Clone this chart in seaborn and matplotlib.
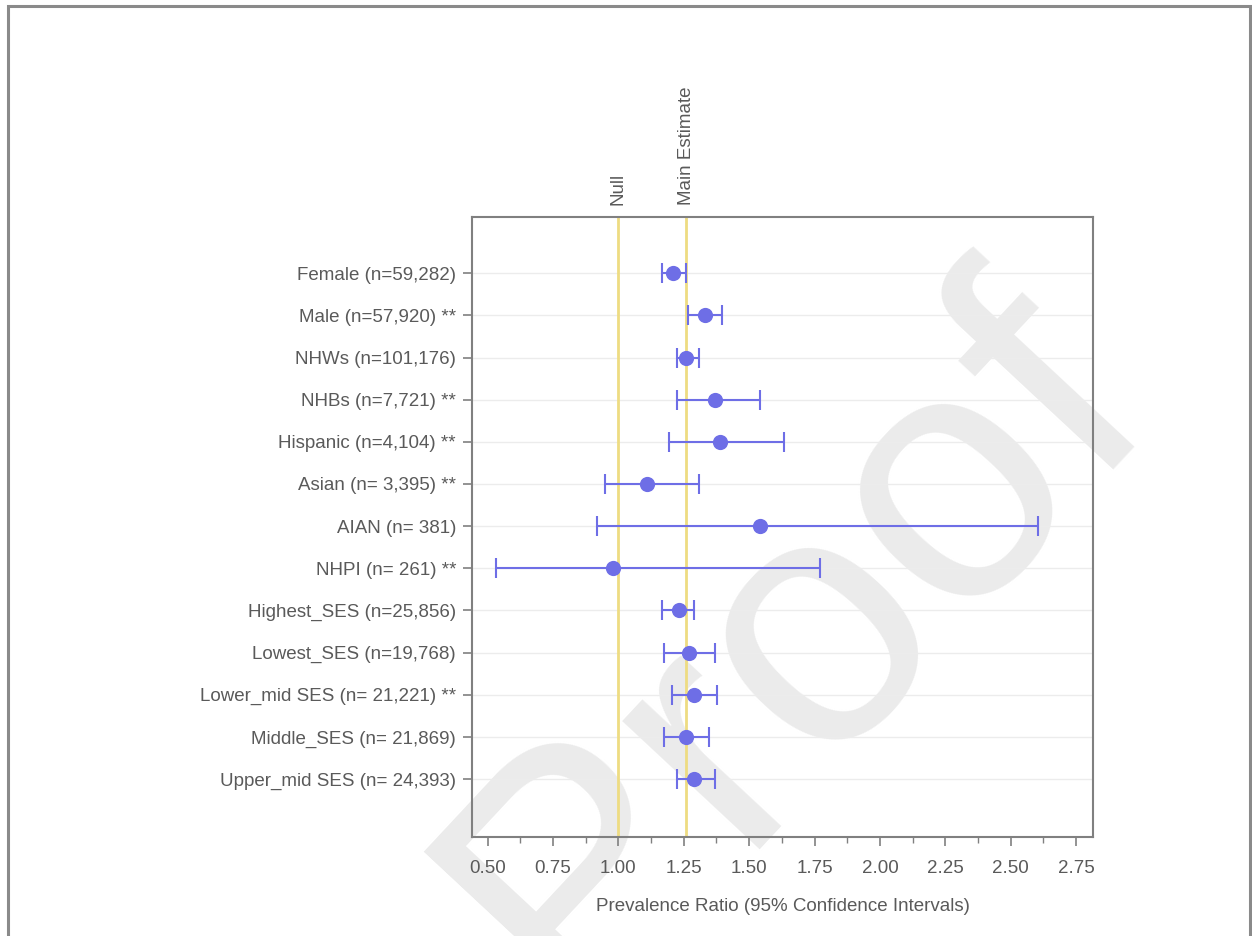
import matplotlib
matplotlib.use("Agg")
import matplotlib.pyplot as plt
import matplotlib.transforms as mtransforms
from matplotlib.patches import Rectangle
from matplotlib.ticker import MultipleLocator
import seaborn as sns
import numpy as np
import pandas as pd

# Subgroup labels, top to bottom
groups = [
    "Female (n=59,282)",
    "Male (n=57,920) **",
    "NHWs (n=101,176)",
    "NHBs (n=7,721) **",
    "Hispanic (n=4,104) **",
    "Asian (n= 3,395) **",
    "AIAN (n= 381)",
    "NHPI (n= 261) **",
    "Highest_SES (n=25,856)",
    "Lowest_SES (n=19,768)",
    "Lower_mid SES (n= 21,221) **",
    "Middle_SES (n= 21,869)",
    "Upper_mid SES (n= 24,393)",
]
# Prevalence ratio and 95% CI
pr = [1.21, 1.33, 1.26, 1.37, 1.39, 1.11, 1.54, 0.98, 1.23, 1.27, 1.29, 1.26, 1.29]
ci_low = [1.165, 1.267, 1.225, 1.225, 1.195, 0.950, 0.919, 0.533, 1.165, 1.173, 1.205, 1.173, 1.225]
ci_high = [1.258, 1.397, 1.309, 1.542, 1.633, 1.307, 2.605, 1.770, 1.288, 1.369, 1.377, 1.347, 1.369]

null_value = 1.0
main_estimate = 1.26
x_ticks = [0.50, 0.75, 1.00, 1.25, 1.50, 1.75, 2.00, 2.25, 2.50, 2.75]

df = pd.DataFrame({"group": groups, "pr": pr, "lo": ci_low, "hi": ci_high})

sns.set_theme(style="white")
plt.rcParams["font.family"] = ["Liberation Sans", "DejaVu Sans"]

text_col = "#5a5a5a"
mark_col = "#6e6ee6"
ref_col = "#eedc82"

fig = plt.figure(figsize=(12.52, 9.36), dpi=100)
ax = fig.add_axes([0.377, 0.106, 0.496, 0.662])
ax.patch.set_alpha(0)

# reference lines
ax.axvline(null_value, color=ref_col, lw=2, zorder=1)
ax.axvline(main_estimate, color=ref_col, lw=2, zorder=1)

# CI bars and point estimates
ax.errorbar(df["pr"], df["group"],
            xerr=[df["pr"] - df["lo"], df["hi"] - df["pr"]],
            fmt="none", ecolor=mark_col, elinewidth=1.5, capsize=7, capthick=1.5, zorder=3)
sns.scatterplot(data=df, x="pr", y="group", ax=ax, color=mark_col, s=120,
                edgecolor=mark_col, linewidth=0, zorder=4, legend=False)

n = len(groups)
ax.set_ylim(n - 1 + 1.37, -1.33)
ax.set_xlim(0.44, 2.815)
ax.set_xticks(x_ticks)
ax.set_xticklabels([f"{t:.2f}" for t in x_ticks])
ax.xaxis.set_minor_locator(MultipleLocator(0.125))

# faint horizontal grid at each category
for i in range(n):
    ax.axhline(i, color="#ececec", lw=1, zorder=0)

for s in ax.spines.values():
    s.set_color("#808080")
    s.set_linewidth(1.5)

ax.tick_params(axis="both", which="major", direction="out", length=6.5, width=1.2,
               color="#808080", labelcolor=text_col, labelsize=13.5, pad=5)
ax.tick_params(axis="x", which="major", pad=10)
ax.tick_params(axis="x", which="minor", direction="out", length=4, width=1,
               color="#808080")
ax.tick_params(axis="y", left=True)
ax.tick_params(axis="x", bottom=True, which="both")

ax.set_xlabel("Prevalence Ratio (95% Confidence Intervals)", color=text_col,
              fontsize=13.5, labelpad=15)
ax.set_ylabel("")

# labels for the reference lines above the axes
trans = mtransforms.blended_transform_factory(ax.transData, ax.transAxes)
ax.text(null_value, 1.019, "Null", transform=trans, rotation=90, ha="center",
        va="bottom", color=text_col, fontsize=13.5)
ax.text(main_estimate, 1.019, "Main Estimate", transform=trans, rotation=90,
        ha="center", va="bottom", color=text_col, fontsize=13.5)

# outer frame of the page
fig.patches.append(Rectangle((8 / 1252, -0.05), (1250 - 8) / 1252, 1.05 - 6 / 936,
                             transform=fig.transFigure, fill=False,
                             edgecolor="#8a8a8a", lw=2.2, zorder=0))

# proof watermark, behind the plot
fig.text(0.635, 0.31, "Proof", transform=fig.transFigure, rotation=47,
         ha="center", va="center", fontsize=255, color="#ebebeb",
         family="Liberation Sans", zorder=-1)

fig.savefig("out.png", dpi=100)
